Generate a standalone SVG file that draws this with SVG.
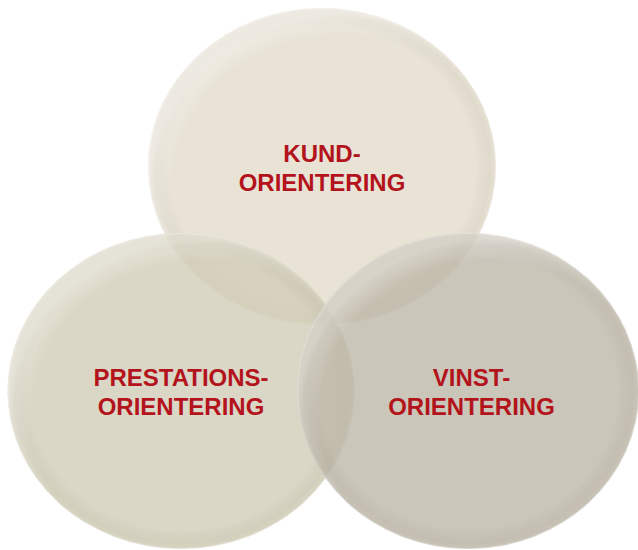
<svg xmlns="http://www.w3.org/2000/svg" width="638" height="550" viewBox="0 0 638 550">
  <defs>
    <radialGradient id="rim" cx="0.5" cy="0.5" r="0.5">
      <stop offset="0" stop-color="#000" stop-opacity="0"/>
      <stop offset="0.88" stop-color="#000" stop-opacity="0"/>
      <stop offset="0.965" stop-color="#5a5030" stop-opacity="0.08"/>
      <stop offset="1" stop-color="#5a5030" stop-opacity="0.03"/>
    </radialGradient>
    <radialGradient id="hl" cx="0.56" cy="0.58" r="0.56">
      <stop offset="0" stop-color="#fff" stop-opacity="0"/>
      <stop offset="0.88" stop-color="#fff" stop-opacity="0"/>
      <stop offset="0.97" stop-color="#fff" stop-opacity="0.25"/>
      <stop offset="1" stop-color="#fff" stop-opacity="0.4"/>
    </radialGradient>
  </defs>
  <style>
    .c { opacity: 0.8; }
    .edge { fill: none; stroke: #ffffff; stroke-opacity: 0.3; stroke-width: 1; }
    .t { font-family: "Liberation Sans", Arial, Helvetica, sans-serif; font-weight: bold; font-size: 24px; fill: #b3141c; text-anchor: middle; }
  </style>
  <g id="kund">
    <g class="c">
      <ellipse cx="322" cy="166.5" rx="174" ry="158.5" fill="#e4ddcd"/>
      <ellipse cx="322" cy="166.5" rx="174" ry="158.5" fill="url(#rim)"/>
      <ellipse cx="322" cy="166.5" rx="174" ry="158.5" fill="url(#hl)"/>
    </g>
    <ellipse class="edge" cx="322" cy="166.5" rx="173.5" ry="158"/>
    <text class="t" x="322" y="162">KUND-</text>
    <text class="t" x="322" y="191">ORIENTERING</text>
  </g>
  <g id="prestation">
    <g class="c">
      <ellipse cx="181" cy="391" rx="173.5" ry="158" fill="#d2ceb8"/>
      <ellipse cx="181" cy="391" rx="173.5" ry="158" fill="url(#rim)"/>
      <ellipse cx="181" cy="391" rx="173.5" ry="158" fill="url(#hl)"/>
    </g>
    <ellipse class="edge" cx="181" cy="391" rx="173" ry="157.5"/>
    <text class="t" x="181" y="386">PRESTATIONS-</text>
    <text class="t" x="181" y="415">ORIENTERING</text>
  </g>
  <g id="vinst">
    <g class="c">
      <ellipse cx="468" cy="391" rx="171" ry="158" fill="#beb8a9"/>
      <ellipse cx="468" cy="391" rx="171" ry="158" fill="url(#rim)"/>
      <ellipse cx="468" cy="391" rx="171" ry="158" fill="url(#hl)"/>
    </g>
    <ellipse class="edge" cx="468" cy="391" rx="170.5" ry="157.5"/>
    <text class="t" x="471.5" y="386">VINST-</text>
    <text class="t" x="471.5" y="415">ORIENTERING</text>
  </g>
  <g id="connectors"/>
</svg>
